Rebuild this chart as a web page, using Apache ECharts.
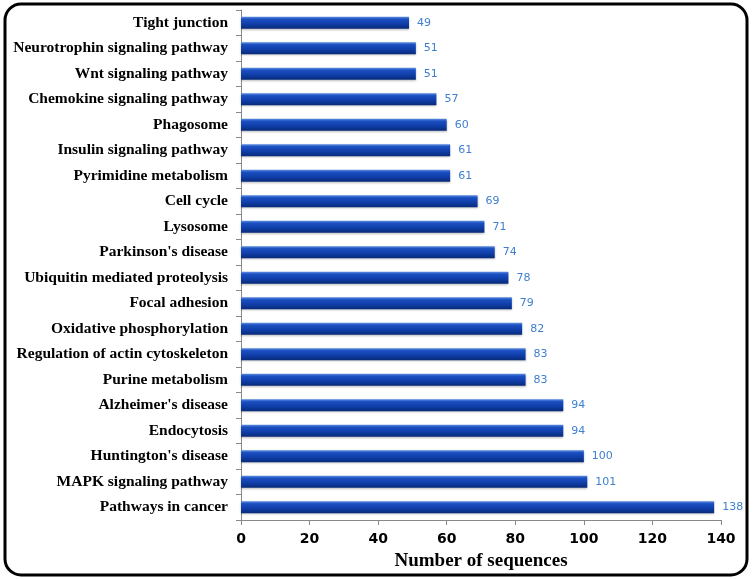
<!DOCTYPE html>
<html>
<head>
<meta charset="utf-8">
<script src="https://cdn.jsdelivr.net/npm/echarts@6/dist/echarts.min.js"></script>
<style>
  html, body { margin: 0; padding: 0; background: #fff; }
  #chart { width: 753px; height: 580px; }
</style>
</head>
<body>
<div id="chart"></div>
<script>
// pathways, listed bottom to top as the y axis draws them
const pathways = [
  "Pathways in cancer", "MAPK signaling pathway", "Huntington's disease",
  "Endocytosis", "Alzheimer's disease", "Purine metabolism",
  "Regulation of actin cytoskeleton", "Oxidative phosphorylation",
  "Focal adhesion", "Ubiquitin mediated proteolysis", "Parkinson's disease",
  "Lysosome", "Cell cycle", "Pyrimidine metabolism", "Insulin signaling pathway",
  "Phagosome", "Chemokine signaling pathway", "Wnt signaling pathway",
  "Neurotrophin signaling pathway", "Tight junction"
];
const sequenceCounts = [138, 101, 100, 94, 94, 83, 83, 82, 79, 78, 74, 71, 69, 61, 61, 60, 57, 51, 51, 49];

const chart = echarts.init(document.getElementById("chart"), null, { renderer: "canvas" });

chart.setOption({
  backgroundColor: "#ffffff",
  animation: false,
  graphic: [{
    type: "rect",
    shape: { x: 5, y: 4, width: 742, height: 571, r: 16 },
    style: { fill: "none", stroke: "#000", lineWidth: 3 },
    z: -1
  }],
  grid: { left: 241, right: 32, top: 10, bottom: 60 },
  xAxis: {
    type: "value",
    min: 0,
    max: 140,
    interval: 20,
    name: "Number of sequences",
    nameLocation: "middle",
    nameGap: 32,
    nameTextStyle: { fontFamily: "Liberation Serif", fontWeight: "bold", fontSize: 19, color: "#000" },
    axisLine: { show: true, lineStyle: { color: "#888", width: 1 } },
    axisTick: { show: true, length: 5, lineStyle: { color: "#888" } },
    axisLabel: { fontFamily: "DejaVu Sans", fontWeight: "bold", fontSize: 14, color: "#000", margin: 12 },
    splitLine: { show: false }
  },
  yAxis: {
    type: "category",
    data: pathways,
    axisLine: { show: true, lineStyle: { color: "#888", width: 1 } },
    axisTick: { show: true, length: 5, alignWithLabel: false, lineStyle: { color: "#888" } },
    axisLabel: { fontFamily: "Liberation Serif", fontWeight: "bold", fontSize: 15.5, color: "#000", margin: 13 },
    splitLine: { show: false }
  },
  series: [{
    type: "bar",
    data: sequenceCounts,
    barWidth: 12,
    itemStyle: {
      color: new echarts.graphic.LinearGradient(0, 0, 0, 1, [
        { offset: 0, color: "#5f8fe0" },
        { offset: 0.2, color: "#1c4fc2" },
        { offset: 0.6, color: "#0f3ea8" },
        { offset: 1, color: "#082a78" }
      ]),
      shadowColor: "rgba(0,0,0,0.25)",
      shadowBlur: 2,
      shadowOffsetY: 1
    },
    label: {
      show: true,
      position: "right",
      distance: 8,
      fontFamily: "DejaVu Sans",
      fontSize: 11,
      color: "#3f7fcf"
    }
  }]
});
</script>
</body>
</html>
